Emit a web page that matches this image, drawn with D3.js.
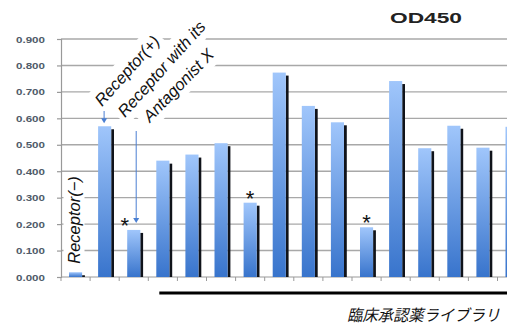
<!DOCTYPE html>
<html><head><meta charset="utf-8">
<script src="https://cdn.jsdelivr.net/npm/d3@7"></script>
<style>body{margin:0;background:#fff}svg{display:block}</style>
</head><body>
<svg id="c" width="507" height="326"></svg>
<script>
const categories = ["Receptor(−)", "Receptor(+)", "Receptor with its Antagonist X",
  "Drug 1", "Drug 2", "Drug 3", "Drug 4", "Drug 5", "Drug 6", "Drug 7",
  "Drug 8", "Drug 9", "Drug 10", "Drug 11", "Drug 12", "Drug 13"];
const values = [0.018, 0.570, 0.178, 0.440, 0.463, 0.506, 0.281, 0.773,
  0.647, 0.585, 0.188, 0.741, 0.487, 0.572, 0.489, 0.568];
const yTickValues = [0, 0.1, 0.2, 0.3, 0.4, 0.5, 0.6, 0.7, 0.8, 0.9];
const starredCategories = ["Receptor with its Antagonist X", "Drug 4", "Drug 8"];
const titleText = "OD450";
const libraryLabel = "臨床承認薬ライブラリ";

const svg = d3.select("#c");
const W = 507, H = 326;
const x = d3.scaleBand().domain(categories).range([61, 61 + 29.1 * categories.length]).padding(0);
const y = d3.scaleLinear().domain([0, 0.9]).range([277, 39]);
const bw = x.bandwidth();
const barX = c => x(c) + bw * 0.275;
const barW = bw * 0.45;

const defs = svg.append("defs");
const g = defs.append("linearGradient").attr("id", "bar").attr("x1", 0).attr("y1", 0).attr("x2", 0).attr("y2", 1);
g.append("stop").attr("offset", "0%").attr("stop-color", "#a0c6fb");
g.append("stop").attr("offset", "100%").attr("stop-color", "#3874cc");

// gridlines
svg.append("g").selectAll("line").data(yTickValues.filter(d => d > 0)).join("line")
  .attr("x1", 61).attr("x2", W).attr("y1", d => y(d)).attr("y2", d => y(d))
  .attr("stroke", "#a8a8a8").attr("stroke-width", 1.4);

// y axis
const yAxis = svg.append("g").attr("transform", "translate(61,0)")
  .call(d3.axisLeft(y).tickValues(yTickValues).tickFormat(d3.format(".3f")).tickSize(4).tickPadding(12));
yAxis.select(".domain").attr("stroke", "#999").attr("stroke-width", 1.2);
yAxis.selectAll(".tick line").attr("stroke", "#999").attr("stroke-width", 1.2);
yAxis.selectAll(".tick text").attr("font-family", "Liberation Sans, Arial, sans-serif")
  .attr("font-weight", "bold").attr("font-size", 9.5).attr("fill", "#4f5c6a")
  .attr("textLength", 29).attr("lengthAdjust", "spacingAndGlyphs");

// x axis baseline + ticks
const xAxis = svg.append("g").attr("transform", `translate(0,${y(0)})`);
xAxis.append("line").attr("x1", 61).attr("x2", W).attr("stroke", "#999").attr("stroke-width", 1.2);
xAxis.selectAll("line.t").data(categories).join("line").attr("class", "t")
  .attr("x1", d => x(d)).attr("x2", d => x(d)).attr("y1", 0).attr("y2", 4)
  .attr("stroke", "#999").attr("stroke-width", 1);

// annotation labels (white backgrounds layer, then text layer)
const font = "Liberation Sans, Arial, sans-serif";
const bgLayer = svg.append("g");
const txtLayer = svg.append("g");
function label(tx, ty, rot, text, anchor, pad) {
  const tf = `translate(${tx},${ty}) rotate(${rot})`;
  const t = txtLayer.append("text").attr("transform", tf).attr("font-family", font)
    .attr("font-style", "italic").attr("font-size", 16.5).attr("text-anchor", anchor)
    .attr("fill", "#111").text(text);
  const b = t.node().getBBox();
  bgLayer.append("rect").attr("transform", tf).attr("fill", "#fff")
    .attr("x", b.x - pad).attr("y", b.y - pad).attr("width", b.width + 2 * pad).attr("height", b.height + 2 * pad);
}
label(80, 220, -90, "Receptor(−)", "middle", 1.5);
label(102, 107, -48, "Receptor(+)", "start", 4);
label(125, 118, -48, "Receptor with its", "start", 4);
label(150, 123, -46, "Antagonist X", "start", 4);

// bars
const bars = svg.append("g").selectAll("g").data(categories).join("g");
bars.append("rect").attr("x", d => barX(d) + barW).attr("width", 2.8)
  .attr("y", (d, i) => Math.min(y(values[i]) + 3, y(0))).attr("height", (d, i) => Math.max(0, y(0) - y(values[i]) - 3))
  .attr("fill", "#10131a");
bars.append("rect").attr("x", d => barX(d)).attr("width", barW)
  .attr("y", (d, i) => y(values[i])).attr("height", (d, i) => y(0) - y(values[i]))
  .attr("fill", "url(#bar)");

// arrows
const arrowColor = "#4a7fd2";
function arrow(xp, y1, y2) {
  svg.append("line").attr("x1", xp).attr("x2", xp).attr("y1", y1).attr("y2", y2 - 4)
    .attr("stroke", arrowColor).attr("stroke-width", 1);
  svg.append("path").attr("d", `M${xp - 3},${y2 - 5} L${xp + 3},${y2 - 5} L${xp},${y2} Z`).attr("fill", arrowColor);
}
const c1 = categories[1], c2 = categories[2];
arrow(barX(c1) + 6, 111, y(values[1]) - 3);
arrow(barX(c2) + 9, 131, y(values[2]) - 7);

// asterisks
svg.append("g").selectAll("text").data(starredCategories).join("text")
  .attr("x", (d, i) => barX(d) + barW / 2 + (i === 0 ? -9 : 0))
  .attr("y", d => y(values[categories.indexOf(d)]) + 3)
  .attr("text-anchor", "middle").attr("font-family", font).attr("font-size", 22)
  .attr("fill", "#111").text("*");

// library bracket line
svg.append("line").attr("x1", x(categories[3]) + 11).attr("x2", W).attr("y1", 293).attr("y2", 293)
  .attr("stroke", "#000").attr("stroke-width", 3);
svg.append("text").attr("x", 347).attr("y", 321).attr("font-family", "Noto Sans CJK JP, sans-serif")
  .attr("font-style", "italic").attr("font-size", 16).attr("fill", "#111")
  .attr("textLength", 153).attr("lengthAdjust", "spacingAndGlyphs").text(libraryLabel);

// title
svg.append("text").attr("x", 426).attr("y", 23).attr("text-anchor", "middle")
  .attr("font-family", font).attr("font-weight", "bold").attr("font-size", 15).attr("fill", "#222")
  .attr("textLength", 72).attr("lengthAdjust", "spacingAndGlyphs").text(titleText);
</script>
</body></html>
